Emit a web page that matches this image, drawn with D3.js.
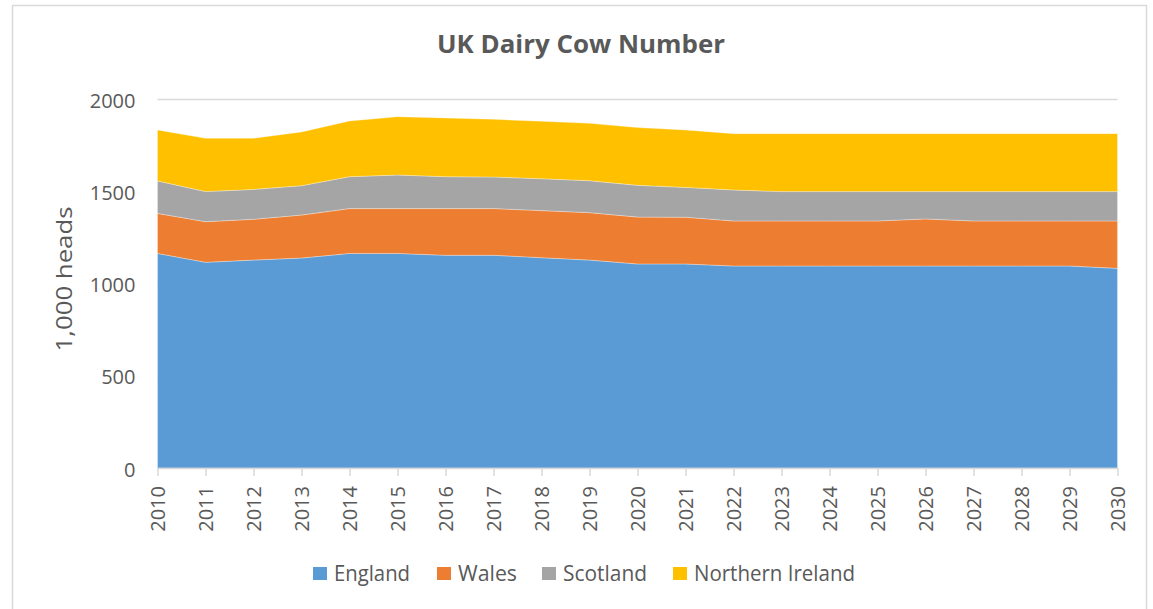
<!DOCTYPE html>
<html>
<head>
<meta charset="utf-8">
<script src="https://cdn.jsdelivr.net/npm/d3@7"></script>
<style>
  html, body { margin: 0; padding: 0; background: #fff; }
  svg { display: block; }
  text { font-family: "Open Sans", "Liberation Sans", sans-serif; fill: #595959; }
</style>
</head>
<body>
<svg id="chart" width="1153" height="609"></svg>
<script>
// Dairy cow numbers by nation, thousand head
const years = [2010, 2011, 2012, 2013, 2014, 2015, 2016, 2017, 2018, 2019, 2020,
               2021, 2022, 2023, 2024, 2025, 2026, 2027, 2028, 2029, 2030];
const england = [1163, 1115, 1127, 1138, 1163, 1163, 1153, 1153, 1140, 1127, 1106,
                 1106, 1095, 1095, 1095, 1095, 1095, 1095, 1095, 1095, 1082];
const wales = [217, 220, 221, 233, 243, 243, 253, 253, 255, 257, 254,
               253, 244, 244, 244, 244, 255, 244, 244, 244, 257];
const scotland = [176, 163, 162, 159, 173, 182, 173, 171, 173, 173, 172,
                  162, 168, 159, 159, 159, 148, 159, 159, 159, 159];
const northernIreland = [276, 289, 277, 291, 302, 316, 318, 313, 311, 311, 313,
                         311, 305, 314, 314, 314, 314, 314, 314, 314, 314];
const seriesNames = ["England", "Wales", "Scotland", "Northern Ireland"];
const seriesColors = ["#5b9bd5", "#ed7d31", "#a5a5a5", "#ffc000"];
const yTicks = [0, 500, 1000, 1500, 2000];

const rows = years.map((yr, i) => ({
  year: yr,
  "England": england[i],
  "Wales": wales[i],
  "Scotland": scotland[i],
  "Northern Ireland": northernIreland[i]
}));

const svg = d3.select("#chart");

// chart frame
svg.append("rect")
  .attr("x", 12.5).attr("y", 5.5)
  .attr("width", 1134).attr("height", 620)
  .attr("fill", "#fff").attr("stroke", "#d9d9d9").attr("stroke-width", 1.5);

const plot = { left: 157.5, right: 1117.5, top: 99, bottom: 468 };

const x = d3.scalePoint().domain(years).range([plot.left, plot.right]);
const y = d3.scaleLinear().domain([0, 2000]).range([plot.bottom, plot.top]);

// gridlines
svg.append("g")
  .selectAll("line")
  .data(yTicks.filter(t => t > 0))
  .join("line")
  .attr("x1", plot.left).attr("x2", plot.right)
  .attr("y1", d => Math.round(y(d)) + 0.5).attr("y2", d => Math.round(y(d)) + 0.5)
  .attr("stroke", "#d9d9d9").attr("stroke-width", 1.5);

// stacked areas
const stack = d3.stack().keys(seriesNames);
const layers = stack(rows);
const area = d3.area()
  .x(d => x(d.data.year))
  .y0(d => y(d[0]))
  .y1(d => y(d[1]));

svg.append("g")
  .selectAll("path")
  .data(layers)
  .join("path")
  .attr("d", area)
  .attr("fill", (d, i) => seriesColors[i])
  .attr("stroke", "#fff")
  .attr("stroke-width", 0.6)
  .attr("stroke-opacity", 0.5);

// y axis labels
const yAxis = d3.axisLeft(y).tickValues(yTicks).tickSize(0).tickPadding(22)
  .tickFormat(d3.format("d"));
svg.append("g")
  .attr("transform", `translate(${plot.left},0)`)
  .call(yAxis)
  .call(g => g.select(".domain").remove())
  .call(g => g.selectAll("text")
    .style("font-size", "20px").attr("fill", "#595959").attr("dy", "0.4em"));

// x axis
const xAxis = d3.axisBottom(x).tickSize(8).tickPadding(6);
const gx = svg.append("g")
  .attr("transform", `translate(0,${plot.bottom})`)
  .call(xAxis);
gx.select(".domain").attr("stroke", "#d9d9d9").attr("stroke-width", 1.5)
  .attr("d", `M${plot.left},0.5H${plot.right}`);
gx.selectAll(".tick line").attr("stroke", "#d9d9d9").attr("stroke-width", 1.5);
gx.selectAll(".tick text")
  .style("font-size", "20px")
  .attr("fill", "#595959")
  .attr("transform", "rotate(-90)")
  .attr("text-anchor", "end")
  .attr("x", -18).attr("y", 0).attr("dy", "0.36em");

// axis title
svg.append("text")
  .attr("transform", "translate(72,279) rotate(-90)")
  .attr("text-anchor", "middle")
  .attr("textLength", 145).attr("lengthAdjust", "spacingAndGlyphs")
  .style("font-size", "22px")
  .text("1,000 heads");

// chart title
svg.append("text")
  .attr("x", 581).attr("y", 53)
  .attr("text-anchor", "middle")
  .attr("textLength", 288).attr("lengthAdjust", "spacingAndGlyphs")
  .style("font-size", "25px").style("font-weight", "bold")
  .text("UK Dairy  Cow Number");

// legend
const legendX = [313, 437, 542, 673];
const legendW = [76, 59, 84, 161];
const legend = svg.append("g").selectAll("g")
  .data(seriesNames)
  .join("g")
  .attr("transform", (d, i) => `translate(${legendX[i]},567)`);
legend.append("rect")
  .attr("width", 14).attr("height", 13)
  .attr("fill", (d, i) => seriesColors[i]);
legend.append("text")
  .attr("x", 21).attr("y", 14)
  .attr("textLength", (d, i) => legendW[i]).attr("lengthAdjust", "spacingAndGlyphs")
  .style("font-size", "21px")
  .text(d => d);
</script>
</body>
</html>
